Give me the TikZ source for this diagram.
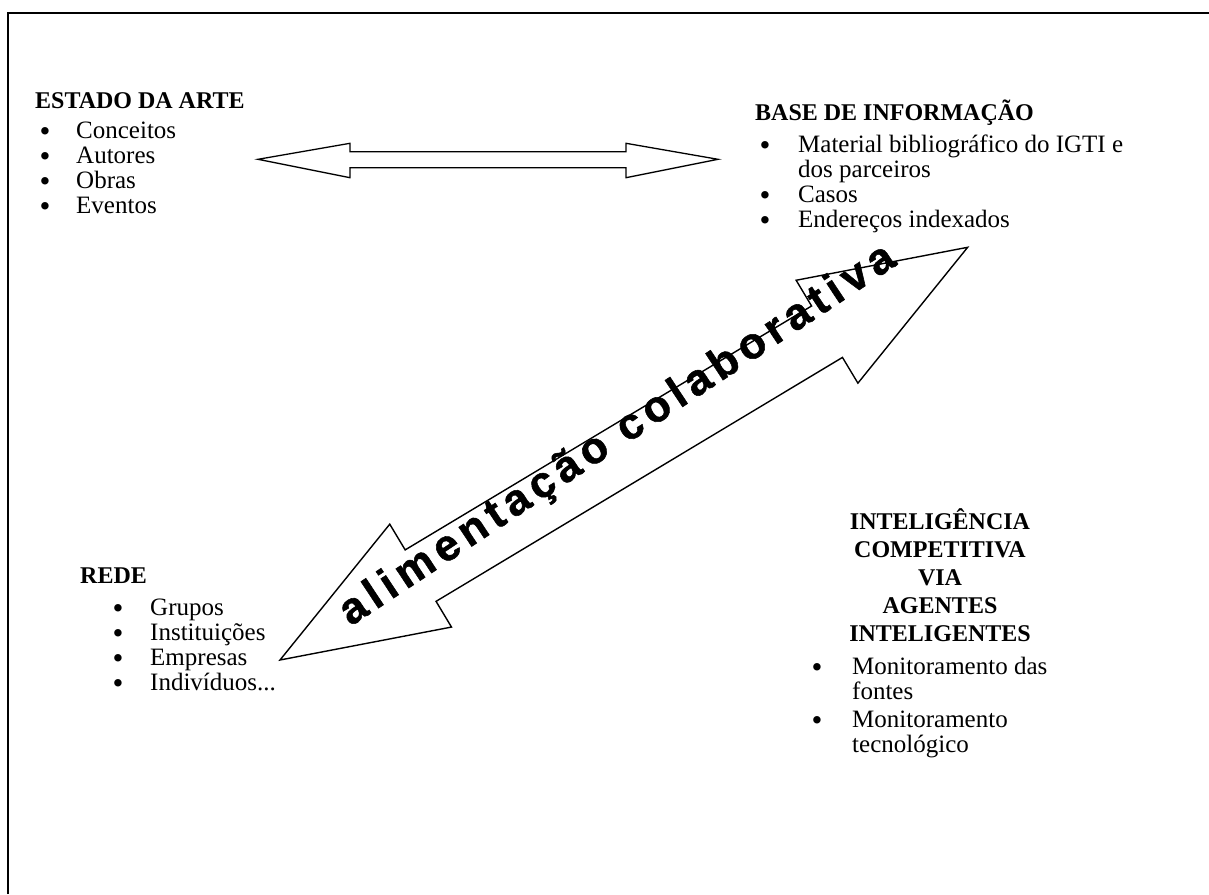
\documentclass[tikz,border=0pt]{standalone}
\usepackage{fontspec}
\setmainfont{Liberation Serif}
\newfontfamily\artfont[LetterSpace=13.5,FakeBold=1.2]{Liberation Sans Bold}
\usetikzlibrary{calc}

\begin{document}
\begin{tikzpicture}[x=1pt,y=-1pt,
  txt/.style={inner sep=0pt, anchor=base west, font=\fontsize{25}{25}\selectfont},
  hd/.style={txt, font=\fontsize{24}{25}\selectfont\bfseries},
  hdc/.style={hd, anchor=base},
  bul/.style={inner sep=0pt, anchor=base, yshift=-3pt, font=\fontsize{31}{31}\selectfont},
  outline/.style={draw=black, line width=1.4pt, fill=white, line join=miter}]
\useasboundingbox (0,0) rectangle (1209,894);

% page frame
\draw[line width=2.2pt] (8,894) -- (8,13) -- (1209,13);

% ESTADO DA ARTE
\node[hd] (estado) at (35,108) {ESTADO DA ARTE};
\foreach \t [count=\i] in {Conceitos,Autores,Obras,Eventos} {
  \node[bul] (estado-b\i) at (45,113+25*\i) {\textbullet};
  \node[txt] (estado-\i) at (76,113+25*\i) {\t};
}

% BASE DE INFORMACAO
\node[hd] (base) at (755,120) {BASE DE INFORMAÇÃO};
\node[bul] (base-b1) at (765,152) {\textbullet};
\node[txt] (base-1) at (798,152) {Material bibliográfico do IGTI e};
\node[txt] (base-1b) at (798,177) {dos parceiros};
\node[bul] (base-b2) at (765,202) {\textbullet};
\node[txt] (base-2) at (798,202) {Casos};
\node[bul] (base-b3) at (765,227) {\textbullet};
\node[txt] (base-3) at (798,227) {Endereços indexados};

% REDE
\node[hd] (rede) at (80,583) {REDE};
\foreach \t [count=\i] in {Grupos,Instituições,Empresas} {
  \node[bul] (rede-b\i) at (118,590+25*\i) {\textbullet};
  \node[txt] (rede-\i) at (150,590+25*\i) {\t};
}
\node[bul] (rede-b4) at (118,690) {\textbullet};
\node[txt] (rede-4) at (150,690) {Indivíduos...};

% INTELIGENCIA COMPETITIVA
\foreach \t [count=\i] in {INTELIGÊNCIA,COMPETITIVA,VIA,AGENTES,INTELIGENTES} {
  \node[hdc] (ic-h\i) at (940,502+27.8*\i) {\t};
}
\node[bul] (ic-b1) at (817,674) {\textbullet};
\node[txt] (ic-1) at (852,674) {Monitoramento das};
\node[txt] (ic-1b) at (852,699) {fontes};
\node[bul] (ic-b2) at (817,727) {\textbullet};
\node[txt] (ic-2) at (852,727) {Monitoramento};
\node[txt] (ic-2b) at (852,752) {tecnológico};

% horizontal double block arrow
\draw[outline, line width=1.3pt] (258,159.3) -- (350,143.3) -- (350,151.7) -- (626,151.7)
  -- (626,143.3) -- (718,159.3) -- (626,177.7) -- (626,167.7) -- (350,167.7)
  -- (350,177.7) -- cycle;

% diagonal double block arrow
\begin{scope}[shift={(280,660)}, rotate=30.97]
\draw[outline] (0,0) -- (164,-60) -- (164,-30) -- (638,-30) -- (638,-60) -- (802,0)
  -- (638,60) -- (638,30) -- (164,30) -- (164,60) -- cycle;
\end{scope}
\node[rotate=33.5, inner sep=0pt, font=\artfont\fontsize{44}{44}\selectfont]
  (lbl) at (618,436) {alimentação colaborativa};
\end{tikzpicture}
\end{document}
